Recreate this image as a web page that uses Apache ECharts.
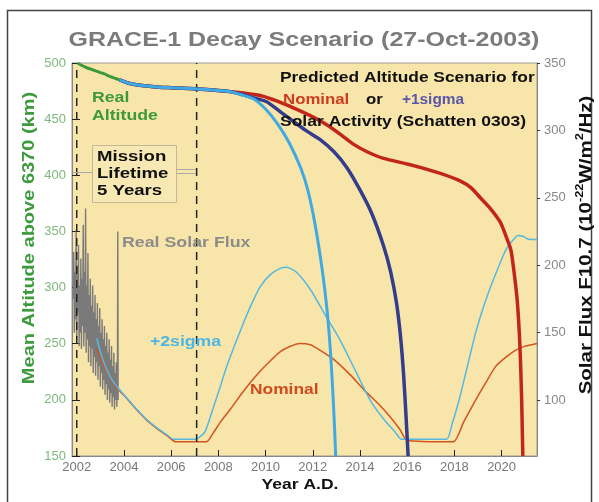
<!DOCTYPE html>
<html><head><meta charset="utf-8">
<script src="https://cdn.jsdelivr.net/npm/echarts@6/dist/echarts.min.js"></script>
<style>html,body{margin:0;padding:0;background:#fff}#c{width:599px;height:502px}</style>
</head><body><div id="c"></div>
<script>
// ---- data ----
const xTicks = [2002, 2004, 2006, 2008, 2010, 2012, 2014, 2016, 2018, 2020];
const altTicks = [150, 200, 250, 300, 350, 400, 450, 500];
const fluxTicks = [100, 150, 200, 250, 300, 350];
const missionStart = 2002.0;
const missionEnd = 2007.08;

const realAltYears = [2002.03, 2002.2, 2002.4, 2002.6, 2002.8, 2003.0, 2003.2, 2003.4, 2003.6, 2003.82];
const realAlt = [500, 498, 496, 494.5, 493, 491.5, 490, 488, 486.5, 485];

const nominalAltYears = [2003.82, 2004.2, 2004.6, 2005.0, 2005.5, 2006.0, 2006.5, 2007.0, 2007.5, 2008.0, 2008.5, 2009.0, 2009.77, 2010.5, 2011.18, 2012.0, 2012.59, 2013.2, 2013.7, 2014.3, 2015.0, 2016.0, 2016.55, 2017.5, 2018.24, 2018.7, 2019.1, 2019.5, 2019.95, 2020.2, 2020.4, 2020.55, 2020.66, 2020.75, 2020.8, 2020.85, 2020.88, 2020.9];
const nominalAlt = [485, 482, 480.5, 479.5, 478.5, 478, 477.5, 477, 476.5, 475.5, 474.5, 473.5, 471, 466, 460, 452, 445, 436, 428, 421, 415, 410, 407, 401, 395, 389, 380, 371, 358, 345, 333, 310, 289, 260, 235, 200, 170, 150];

const sigma1AltYears = [2003.82, 2004.2, 2004.6, 2005.0, 2005.5, 2006.0, 2006.5, 2007.0, 2007.5, 2008.0, 2008.5, 2009.0, 2009.5, 2010.05, 2010.6, 2011.18, 2011.7, 2012.3, 2012.9, 2013.44, 2014.0, 2014.5, 2015.0, 2015.3, 2015.55, 2015.72, 2015.85, 2015.95, 2016.01, 2016.04];
const sigma1Alt = [485, 482, 480.5, 479.5, 478.5, 478, 477.5, 477, 476.5, 475.5, 474.5, 472, 469, 465.5, 457, 448, 440, 432, 421, 407, 387, 366, 337, 314, 286, 256, 222, 186, 162, 150];

const sigma2AltYears = [2003.82, 2004.2, 2004.6, 2005.0, 2005.5, 2006.0, 2006.5, 2007.0, 2007.5, 2008.0, 2008.5, 2009.0, 2009.5, 2010.0, 2010.5, 2011.0, 2011.5, 2011.8, 2012.1, 2012.4, 2012.6, 2012.75, 2012.85, 2012.93, 2012.97];
const sigma2Alt = [485, 482, 480.5, 479.5, 478.5, 478, 477.5, 477, 476.5, 475.5, 474.5, 471.5, 468, 459, 446, 429, 406, 386, 356, 316, 281, 243, 207, 172, 150];

const realFluxYears = [2001.850, 2001.875, 2001.900, 2001.925, 2001.950, 2001.975, 2002.000, 2002.025, 2002.050, 2002.075, 2002.100, 2002.125, 2002.150, 2002.175, 2002.200, 2002.225, 2002.250, 2002.275, 2002.300, 2002.325, 2002.350, 2002.375, 2002.400, 2002.425, 2002.450, 2002.475, 2002.500, 2002.525, 2002.550, 2002.575, 2002.600, 2002.625, 2002.650, 2002.675, 2002.700, 2002.725, 2002.750, 2002.775, 2002.800, 2002.825, 2002.850, 2002.875, 2002.900, 2002.925, 2002.950, 2002.975, 2003.000, 2003.025, 2003.050, 2003.075, 2003.100, 2003.125, 2003.150, 2003.175, 2003.200, 2003.225, 2003.250, 2003.275, 2003.300, 2003.325, 2003.350, 2003.375, 2003.400, 2003.425, 2003.450, 2003.475, 2003.500, 2003.525, 2003.550, 2003.575, 2003.600, 2003.625, 2003.650, 2003.675, 2003.700, 2003.725, 2003.740, 2003.755];
const realFlux = [175, 210, 150, 195, 160, 226, 145, 200, 165, 215, 140, 185, 150, 205, 138, 190, 155, 230, 140, 195, 150, 242, 135, 185, 145, 209, 128, 178, 140, 190, 125, 170, 138, 185, 120, 165, 132, 178, 118, 160, 128, 172, 115, 155, 125, 168, 110, 150, 120, 160, 108, 145, 115, 155, 104, 140, 112, 150, 100, 135, 108, 145, 98, 130, 105, 140, 95, 125, 102, 135, 93, 120, 100, 128, 95, 115, 225, 100];

const sigma2FluxYears = [2002.85, 2003.1, 2003.4, 2003.7, 2004.0, 2004.5, 2005.0, 2005.5, 2005.8, 2006.1, 2007.0, 2007.2, 2007.45, 2007.8, 2008.1, 2008.35, 2008.7, 2009.06, 2009.4, 2009.77, 2010.2, 2010.6, 2010.9, 2011.3, 2011.9, 2012.5, 2013.16, 2013.8, 2014.43, 2015.0, 2015.5, 2015.75, 2017.67, 2017.9, 2018.2, 2018.55, 2018.9, 2019.25, 2019.6, 2019.9, 2020.17, 2020.45, 2020.7, 2020.9, 2021.1, 2021.5];
const sigma2Flux = [146, 130, 118, 110, 104, 94, 85, 78, 74.5, 71, 71, 72.5, 77, 95, 111, 124.7, 141, 157, 171, 184, 193, 197.5, 198.5, 195, 182, 164, 144.5, 122, 100, 86, 76, 71, 71, 82, 100, 125, 150, 170, 187, 200, 211, 218, 222, 221.5, 219.5, 219];

const nominalFluxYears = [2002.85, 2003.1, 2003.4, 2003.7, 2004.0, 2004.5, 2005.0, 2005.5, 2005.8, 2006.2, 2007.5, 2007.8, 2008.1, 2008.5, 2009.0, 2009.4, 2009.8, 2010.2, 2010.6, 2011.0, 2011.46, 2011.9, 2012.3, 2012.9, 2013.6, 2014.2, 2014.85, 2015.3, 2015.7, 2016.0, 2017.95, 2018.4, 2018.9, 2019.3, 2019.75, 2020.2, 2020.6, 2021.0, 2021.5];
const nominalFlux = [138, 127, 117, 109, 103.5, 93.5, 84.5, 77.5, 74, 69, 69, 76, 84, 93, 105, 114, 122, 129, 135.5, 139.5, 142, 141, 137, 130, 118.5, 107, 96, 87, 78, 70, 69, 84, 100, 112, 125, 132, 137, 140, 142];

// ---- build ----
const zip = (xs, ys) => xs.map((x, i) => [x, ys[i]]);
const FONT = "'Liberation Sans', Arial, sans-serif";
const chart = echarts.init(document.getElementById('c'), null, {renderer: 'canvas'});

function line(name, data, color, width, yIdx, z, smooth) {
  return {name, type: 'line', data, yAxisIndex: yIdx, showSymbol: false, symbol: 'none',
    smooth: smooth, z: z, clip: true,
    lineStyle: {color, width}, emphasis: {disabled: true}};
}
function txt(x, y, s, color, size, sx) {
  return {type: 'text', x: x, y: y, scaleX: sx || 1.25, z: 100,
    style: {text: s, fill: color, font: 'bold ' + (size || 14) + 'px ' + FONT, align: 'left', verticalAlign: 'middle'}};
}

chart.setOption({
  animation: false,
  backgroundColor: '#ffffff',
  grid: {left: 72, right: 62, top: 63, bottom: 46, show: true, backgroundColor: '#F8E5AA', borderColor: '#9a9a9a', borderWidth: 1},
  xAxis: {type: 'value', min: 2001.8, max: 2021.5,
    axisLine: {show: true, lineStyle: {color: '#888'}},
    axisTick: {show: true, inside: true, length: 6, customValues: xTicks, lineStyle: {color: '#222', width: 1}},
    axisLabel: {customValues: xTicks, formatter: v => String(v), color: '#777', fontSize: 13, fontFamily: FONT, margin: 5},
    splitLine: {show: false}},
  yAxis: [
    {type: 'value', min: 150, max: 500, interval: 50, position: 'left',
      axisLine: {show: true, lineStyle: {color: '#888'}},
      axisTick: {show: true, inside: true, length: 8, lineStyle: {color: '#222', width: 1}},
      axisLabel: {color: '#7cb87c', fontSize: 13, fontFamily: FONT, margin: 6},
      splitLine: {show: false}},
    {type: 'value', min: 58.5, max: 350, position: 'right',
      axisLine: {show: true, lineStyle: {color: '#888'}},
      axisTick: {show: true, inside: false, length: 3, customValues: fluxTicks, lineStyle: {color: '#333'}},
      axisLabel: {customValues: fluxTicks, color: '#888', fontSize: 13, fontFamily: FONT, margin: 7},
      splitLine: {show: false}}
  ],
  series: [
    line('Real Solar Flux', zip(realFluxYears, realFlux), '#7a7a7a', 1.4, 1, 2, false),
    line('Nominal flux', zip(nominalFluxYears, nominalFlux), '#D2541E', 1.5, 1, 3, 0.2),
    line('+2sigma flux', zip(sigma2FluxYears, sigma2Flux), '#55B8E0', 1.5, 1, 4, 0.2),
    {type: 'line', yAxisIndex: 0, data: [[missionStart, 150], [missionStart, 500]], symbol: 'none', z: 5,
      lineStyle: {color: '#222', width: 1.5, type: [8, 6]}},
    {type: 'line', yAxisIndex: 0, data: [[missionEnd, 150], [missionEnd, 500]], symbol: 'none', z: 5,
      lineStyle: {color: '#222', width: 1.5, type: [8, 6]}},
    line('Nominal', zip(nominalAltYears, nominalAlt), '#C2261B', 3.5, 0, 6, 0.2),
    line('+1sigma', zip(sigma1AltYears, sigma1Alt), '#343C8C', 3.5, 0, 7, 0.2),
    line('+2sigma', zip(sigma2AltYears, sigma2Alt), '#3FA9E2', 3, 0, 8, 0.2),
    line('Real Altitude', zip(realAltYears, realAlt), '#3C9A3C', 3, 0, 9, 0.2)
  ],
  graphic: [
    {type: 'rect', shape: {x: 7.5, y: 10.5, width: 584, height: 500}, style: {fill: 'none', stroke: '#444', lineWidth: 1.5}, z: 0},
    {type: 'text', x: 304, y: 40, scaleX: 1.19, z: 100, style: {text: 'GRACE-1 Decay Scenario (27-Oct-2003)', fill: '#7b7b7b', font: 'bold 21px ' + FONT, align: 'center', verticalAlign: 'middle'}},
    {type: 'text', x: 30, y: 238, rotation: Math.PI / 2, scaleX: 1.25, z: 100, style: {text: 'Mean Altitude above 6370 (km)', fill: '#3d9a3d', font: 'bold 16px ' + FONT, align: 'center', verticalAlign: 'middle'}},
    {type: 'text', x: 585, y: 245, rotation: Math.PI / 2, scaleX: 1.28, z: 100, style: {
      text: '{n|Solar Flux F10.7 (10}{s|-22}{n|W/m}{s|2}{n|/Hz)}', align: 'center', verticalAlign: 'middle',
      rich: {n: {fill: '#111', font: 'bold 16px ' + FONT, lineHeight: 20, verticalAlign: 'bottom'},
             s: {fill: '#111', font: 'bold 10px ' + FONT, lineHeight: 20, verticalAlign: 'top'}}}},
    {type: 'text', x: 300, y: 485, scaleX: 1.25, z: 100, style: {text: 'Year A.D.', fill: '#111', font: 'bold 14px ' + FONT, align: 'center', verticalAlign: 'middle'}},
    txt(92, 98, 'Real', '#3c9a3c', 14.5, 1.22),
    txt(92, 116, 'Altitude', '#3c9a3c', 14.5, 1.22),
    {type: 'rect', shape: {x: 92.5, y: 145.5, width: 84, height: 57}, style: {fill: 'rgba(255,255,255,0.12)', stroke: '#c4b898', lineWidth: 1}, z: 99},
    {type: 'line', shape: {x1: 73, y1: 172.5, x2: 92, y2: 172.5}, style: {stroke: '#aaa', lineWidth: 1}, z: 99},
    {type: 'line', shape: {x1: 177, y1: 169.5, x2: 196, y2: 169.5}, style: {stroke: '#aaa', lineWidth: 1}, z: 99},
    {type: 'line', shape: {x1: 177, y1: 173.5, x2: 196, y2: 173.5}, style: {stroke: '#aaa', lineWidth: 1}, z: 99},
    txt(97, 157, 'Mission', '#111', 15, 1.24),
    txt(97, 174, 'Lifetime', '#111', 15, 1.24),
    txt(97, 191, '5 Years', '#111', 15, 1.24),
    txt(122, 243, 'Real Solar Flux', '#8c8c8c', 14, 1.27),
    txt(150, 342, '+2sigma', '#4DB6E2', 14, 1.26),
    txt(250, 390, 'Nominal', '#CF4A1C', 14, 1.24),
    txt(280, 78, 'Predicted Altitude Scenario for', '#111', 14, 1.24),
    txt(283, 100, 'Nominal', '#CF3B1F', 14, 1.2),
    txt(366, 100, 'or', '#111', 14, 1.2),
    txt(402, 100, '+1sigma', '#5B57A8', 14, 1.1),
    txt(280, 122, 'Solar Activity (Schatten 0303)', '#111', 14, 1.25)
  ]
});
</script></body></html>
